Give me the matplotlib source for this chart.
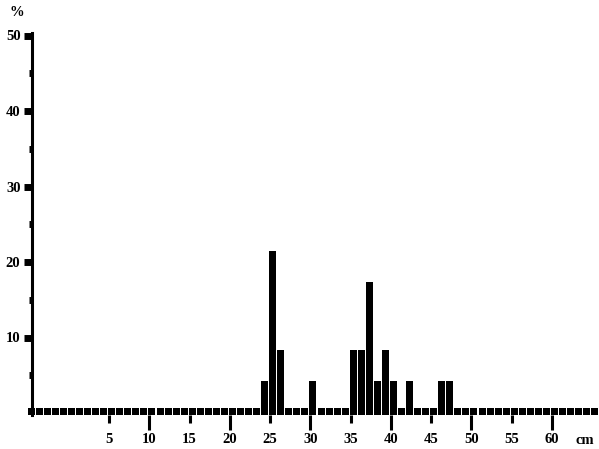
import numpy as np
import matplotlib
matplotlib.use("Agg")
import matplotlib.pyplot as plt
from matplotlib.ticker import FixedLocator, FixedFormatter

# Data: length classes (cm) and percentage of fish
bins = list(range(-5, 66))
class_cm = [24, 25, 26, 30, 35, 36, 37, 38, 39, 40, 42, 46, 47]
pct = [4.2, 21.4, 8.3, 4.2, 8.3, 8.3, 17.3, 4.2, 8.3, 4.2, 4.2, 4.2, 4.2]
x_major = [10, 20, 30, 40, 50, 60]
x_minor = [5, 15, 25, 35, 45, 55]
y_major = [10, 20, 30, 40, 50]
y_minor = [5, 15, 25, 35, 45]

W, H = 599, 449
fig = plt.figure(figsize=(W / 100, H / 100), dpi=100)
px_left, px_right, px_top, px_bottom = 32, 599, 33, 415
ax = fig.add_axes([px_left / W, (H - px_bottom) / H,
                   (px_right - px_left) / W, (px_bottom - px_top) / H])

# scale: 0 cm at px 68.8, 8.05 px per cm; 0 % at py 413, 7.55 px per %
x0, sx = 68.8, 8.05
y0, sy = 413.0, 7.55
xlim = ((px_left - x0) / sx, (px_right - x0) / sx)
ylim = ((y0 - px_bottom) / sy, (y0 - px_top) / sy)
ax.set_xlim(*xlim)
ax.set_ylim(*ylim)

vals = {c: p for c, p in zip(class_cm, pct)}
full = np.array([vals.get(b, 0.0) for b in bins])
floor = 0.66  # baseline block height
heights = np.maximum(full, floor) - ylim[0]
ax.bar(np.array(bins) - 0.1, heights, bottom=ylim[0], width=0.87,
       align='edge', color='black', edgecolor='none', zorder=3,
       clip_on=False)

for s in ['top', 'right', 'bottom']:
    ax.spines[s].set_visible(False)
ax.spines['left'].set_linewidth(2.2)
ax.spines['left'].set_color('black')

font = dict(family='Liberation Serif', weight='bold', size=10.5)

ax.xaxis.set_major_locator(FixedLocator(x_major))
ax.xaxis.set_minor_locator(FixedLocator(x_minor))
ax.xaxis.set_major_formatter(FixedFormatter([str(v) for v in x_major]))
ax.xaxis.set_minor_formatter(FixedFormatter([str(v) for v in x_minor]))
ax.tick_params(axis='x', which='major', length=10.8, width=2.2, pad=2.2,
               direction='out', color='black')
ax.tick_params(axis='x', which='minor', length=5.8, width=2.2, pad=7.2,
               direction='out', color='black')

ax.yaxis.set_major_locator(FixedLocator(y_major))
ax.yaxis.set_minor_locator(FixedLocator(y_minor))
ax.set_yticklabels([str(v) for v in y_major])
ax.tick_params(axis='y', which='major', length=5.8, width=5, pad=2.5,
               direction='out', color='black')
ax.tick_params(axis='y', which='minor', length=2.2, width=5,
               direction='out', color='black')

for lab in ax.get_xticklabels(which='both') + ax.get_yticklabels():
    lab.set_fontfamily(font['family'])
    lab.set_fontweight(font['weight'])
    lab.set_fontsize(font['size'])

fig.text(585 / W, 1 - 440 / H, 'cm', ha='center', va='center', **font)
fig.text(17 / W, 1 - 13 / H, '%', ha='center', va='center', **font)

fig.savefig('out.png', dpi=100)
